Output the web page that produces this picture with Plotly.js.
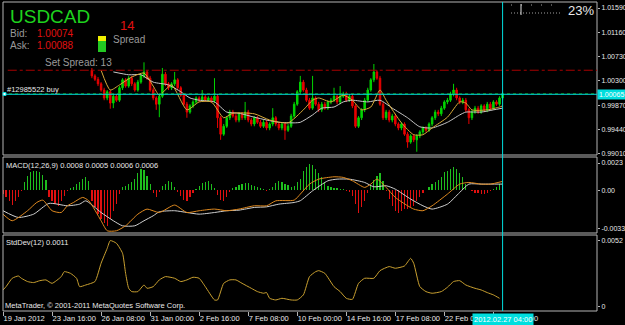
<!DOCTYPE html>
<html><head><meta charset="utf-8">
<script src="https://cdn.plot.ly/plotly-3.0.1.min.js"></script>
<style>html,body{margin:0;padding:0;background:#000;}#chart{width:625px;height:325px;}</style>
</head><body><div id="chart"></div>
<script>
// ---------- data ----------
const symbol = 'USDCAD';
const bidPrice = 1.00074, askPrice = 1.00088, orderPrice = 1.00065, tpLevel = 1.0049;
const spreadPts = 14, setSpread = 13, loadPct = '23%';
const orderLabel = '#12985522 buy';
const firstCandleBar = 29;
const lastBar = 163;
const cursorLabel = '2012.02.27 04:00';

const openP = [1.0049,1.0039,1.0033,1.0025,1.0014,1.0000,1.0011,0.9991,1.0003,0.9996,
1.0018,1.0032,1.0021,1.0035,1.0025,1.0014,1.0028,1.0039,1.0046,1.0035,
1.0014,1.0000,0.9989,1.0003,1.0042,1.0025,1.0018,1.0025,1.0032,1.0018,
1.0005,0.9989,0.9975,0.9986,0.9993,1.0000,0.9996,1.0002,0.9996,1.0000,
0.9995,1.0003,0.9965,0.9936,0.9950,0.9965,0.9975,0.9968,0.9961,0.9972,
0.9965,0.9975,0.9961,0.9954,0.9965,0.9957,0.9950,0.9957,0.9947,0.9954,
0.9965,0.9954,0.9947,0.9954,0.9943,0.9950,0.9968,0.9989,1.0011,1.0028,
1.0014,0.9996,0.9982,1.0000,0.9989,0.9979,0.9989,0.9982,0.9993,0.9996,
1.0003,0.9993,1.0003,1.0007,0.9996,1.0003,0.9986,0.9950,0.9965,0.9979,
0.9996,1.0014,1.0032,1.0046,1.0035,0.9989,0.9965,0.9975,0.9961,0.9968,
0.9954,0.9947,0.9954,0.9936,0.9922,0.9933,0.9926,0.9933,0.9940,0.9947,
0.9943,0.9954,0.9965,0.9975,0.9972,0.9982,0.9993,0.9996,1.0007,1.0014,
1.0000,0.9993,0.9996,0.9979,0.9965,0.9975,0.9982,0.9975,0.9986,0.9979,
0.9989,0.9982,0.9993,0.9989,1.0000];
const highP = [1.0053,1.0042,1.0037,1.0028,1.0018,1.0014,1.0014,1.0007,1.0007,1.0021,
1.0035,1.0035,1.0039,1.0039,1.0028,1.0032,1.0042,1.0063,1.0049,1.0039,
1.0018,1.0003,1.0007,1.0053,1.0046,1.0028,1.0028,1.0046,1.0035,1.0021,
1.0009,0.9993,0.9989,0.9996,1.0003,1.0003,1.0014,1.0005,1.0003,1.0003,
1.0035,1.0007,0.9968,0.9954,0.9968,0.9979,0.9979,0.9972,0.9975,0.9975,
0.9993,0.9979,0.9965,0.9968,0.9968,0.9961,0.9961,0.9961,0.9957,0.9982,
0.9968,0.9957,0.9957,0.9957,0.9954,0.9972,0.9993,1.0014,1.0039,1.0032,
1.0018,1.0000,1.0039,1.0003,0.9993,0.9993,0.9993,0.9996,1.0000,1.0018,
1.0007,1.0021,1.0011,1.0011,1.0007,1.0007,0.9989,0.9968,0.9982,1.0000,
1.0018,1.0035,1.0060,1.0049,1.0039,0.9993,0.9979,0.9979,0.9972,0.9972,
0.9957,0.9957,0.9957,0.9940,0.9936,0.9936,0.9936,0.9943,0.9950,0.9950,
0.9957,0.9968,0.9979,0.9979,0.9986,0.9996,1.0000,1.0011,1.0025,1.0018,
1.0003,1.0000,1.0000,0.9982,0.9979,0.9986,0.9986,0.9989,0.9989,0.9993,
0.9993,0.9996,0.9996,1.0003,1.0011];
const lowP = [1.0035,1.0030,1.0021,1.0011,0.9996,0.9996,0.9981,0.9982,0.9993,0.9993,
1.0014,1.0018,1.0018,1.0021,1.0011,1.0011,1.0025,1.0035,1.0032,1.0011,
0.9996,0.9979,0.9966,1.0000,1.0021,1.0014,1.0014,1.0021,1.0014,1.0002,
0.9986,0.9965,0.9972,0.9982,0.9989,0.9993,0.9993,0.9993,0.9993,0.9991,
0.9991,0.9947,0.9926,0.9933,0.9947,0.9961,0.9965,0.9957,0.9957,0.9961,
0.9961,0.9957,0.9950,0.9950,0.9954,0.9947,0.9947,0.9943,0.9943,0.9950,
0.9950,0.9943,0.9943,0.9926,0.9940,0.9947,0.9965,0.9986,1.0007,1.0011,
0.9993,0.9979,0.9979,0.9986,0.9975,0.9975,0.9979,0.9979,0.9989,0.9993,
0.9989,0.9989,1.0000,0.9993,0.9993,0.9982,0.9947,0.9947,0.9961,0.9975,
0.9993,1.0011,1.0028,1.0032,0.9986,0.9961,0.9961,0.9957,0.9957,0.9950,
0.9943,0.9943,0.9933,0.9912,0.9919,0.9922,0.9905,0.9929,0.9936,0.9940,
0.9940,0.9950,0.9961,0.9968,0.9968,0.9979,0.9989,0.9993,1.0003,0.9996,
0.9989,0.9989,0.9975,0.9954,0.9961,0.9972,0.9972,0.9972,0.9975,0.9975,
0.9979,0.9979,0.9986,0.9986,0.9996];
const closeP = [1.0039,1.0033,1.0025,1.0014,1.0000,1.0011,0.9991,1.0003,0.9996,1.0018,
1.0032,1.0021,1.0035,1.0025,1.0014,1.0028,1.0039,1.0046,1.0035,1.0014,
1.0000,0.9989,1.0003,1.0042,1.0025,1.0018,1.0025,1.0032,1.0018,1.0005,
0.9989,0.9975,0.9986,0.9993,1.0000,0.9996,1.0002,0.9996,1.0000,0.9995,
1.0003,0.9965,0.9936,0.9950,0.9965,0.9975,0.9968,0.9961,0.9972,0.9965,
0.9975,0.9961,0.9954,0.9965,0.9957,0.9950,0.9957,0.9947,0.9954,0.9965,
0.9954,0.9947,0.9954,0.9943,0.9950,0.9968,0.9989,1.0011,1.0028,1.0014,
0.9996,0.9982,1.0000,0.9989,0.9979,0.9989,0.9982,0.9993,0.9996,1.0003,
0.9993,1.0003,1.0007,0.9996,1.0003,0.9986,0.9950,0.9965,0.9979,0.9996,
1.0014,1.0032,1.0046,1.0035,0.9989,0.9965,0.9975,0.9961,0.9968,0.9954,
0.9947,0.9954,0.9936,0.9922,0.9933,0.9926,0.9933,0.9940,0.9947,0.9943,
0.9954,0.9965,0.9975,0.9972,0.9982,0.9993,0.9996,1.0007,1.0014,1.0000,
0.9993,0.9996,0.9979,0.9965,0.9975,0.9982,0.9975,0.9986,0.9979,0.9989,
0.9982,0.9993,0.9989,1.0000,1.0007];

const maFastBars = [32,35,38,42,46,49,51,55,60,64,68,72,75,82,87,93,98,101,103,107,111,114,117,120,123,125,130,134,137,140,145,149,151,153,158,162,163];
const maFastVals = [1.0049,1.0014,1.0023,1.0037,1.0044,1.0021,1.0005,1.0023,0.9979,0.9993,0.9993,0.9965,0.9973,0.9972,0.9961,0.9956,0.9979,0.9996,1.0000,0.9993,1.0005,0.9996,0.9979,0.9984,1.0014,0.9996,0.9956,0.9935,0.9935,0.9947,0.9966,0.9993,0.9991,0.9979,0.9979,0.9984,0.9986];
const maSlowBars = [36,41,45,49,54,58,61,64,69,73,77,82,86,90,95,97,101,104,108,111,114,119,123,127,132,136,140,145,149,151,156,160,163];
const maSlowVals = [1.0046,1.0041,1.0041,1.0028,1.0023,1.0011,1.0000,0.9996,0.9993,0.9975,0.9973,0.9966,0.9961,0.9957,0.9956,0.9957,0.9970,0.9982,0.9984,0.9993,0.9996,0.9993,0.9996,0.9982,0.9965,0.9949,0.9947,0.9957,0.9970,0.9975,0.9975,0.9979,0.9982];

const macdHist = [-0.00034,-0.00062,-0.00091,-0.00125,-0.00091,-0.00062,-0.00011,0.00065,0.00122,0.00150,
0.00164,0.00158,0.00150,0.00130,0.00085,-0.00062,-0.00091,-0.00119,-0.00133,-0.00091,
-0.00048,-0.00011,0.00017,0.00028,0.00051,0.00065,0.00093,0.00108,0.00074,-0.00091,
-0.00147,-0.00204,-0.00246,-0.00275,-0.00303,-0.00246,-0.00175,-0.00119,-0.00034,0.00023,
0.00037,0.00051,0.00065,0.00093,0.00142,0.00178,0.00170,0.00122,0.00051,-0.00028,
-0.00057,-0.00020,0.00037,0.00051,0.00074,0.00065,0.00023,-0.00020,-0.00048,-0.00085,
-0.00091,-0.00062,-0.00028,0.00008,0.00037,0.00057,0.00068,0.00074,0.00051,0.00017,
-0.00040,-0.00085,-0.00091,-0.00062,-0.00020,0.00014,0.00028,0.00042,0.00051,0.00059,
0.00057,0.00045,0.00034,0.00023,0.00014,0.00006,-0.00006,0.00006,0.00023,0.00062,
0.00074,0.00065,0.00051,0.00040,0.00028,0.00037,0.00065,0.00093,0.00164,0.00192,
0.00221,0.00215,0.00178,0.00142,0.00108,0.00065,0.00037,0.00023,0.00017,0.00014,
0.00011,0.00006,-0.00006,-0.00020,-0.00048,-0.00119,-0.00190,-0.00147,-0.00091,-0.00028,
0.00037,0.00085,0.00122,0.00142,0.00074,-0.00011,-0.00076,-0.00133,-0.00181,-0.00190,
-0.00175,-0.00164,-0.00161,-0.00147,-0.00133,-0.00096,-0.00062,-0.00023,0,0.00028,
0.00051,0.00071,0.00085,0.00113,0.00150,0.00164,0.00178,0.00192,0.00175,0.00147,
0.00108,0.00051,0,-0.00011,-0.00023,-0.00028,-0.00034,-0.00034,-0.00023,-0.00011,
0.00008,0.00023,0.00051,0.00057];
const macdLineBars = [0,3,8,11,13,16,19,21,23,26,28,32,34,37,40,44,47,51,56,60,64,69,73,77,82,86,89,95,97,100,103,108,111,114,118,120,122,125,128,132,134,137,140,145,149,152,156,159,163];
const macdLineVals = [-0.00204,-0.00260,-0.00175,-0.00105,-0.00085,-0.00175,-0.00190,-0.00133,-0.00105,-0.00062,-0.00091,-0.00260,-0.00345,-0.00345,-0.00303,-0.00204,-0.00161,-0.00190,-0.00127,-0.00190,-0.00175,-0.00161,-0.00175,-0.00161,-0.00133,-0.00133,-0.00091,-0.00085,-0.00034,0.00051,0.00093,0.00113,0.00108,0.00079,0.00023,0.00051,0.00093,0.00023,-0.00062,-0.00133,-0.00161,-0.00175,-0.00133,-0.00034,0.00051,0.00065,0.00051,0.00051,0.00074];
const signalBars = [0,5,10,15,21,25,27,32,36,39,43,46,49,51,56,60,64,69,73,77,82,86,90,95,97,101,106,109,113,118,121,125,128,133,137,140,145,149,152,156,159,163];
const signalVals = [-0.00175,-0.00232,-0.00204,-0.00113,-0.00133,-0.00119,-0.00091,-0.00190,-0.00260,-0.00303,-0.00303,-0.00260,-0.00218,-0.00184,-0.00175,-0.00190,-0.00204,-0.00190,-0.00175,-0.00170,-0.00147,-0.00142,-0.00119,-0.00105,-0.00090,-0.00006,0.00079,0.00093,0.00093,0.00065,0.00028,0.00037,0.00008,-0.00076,-0.00133,-0.00161,-0.00119,-0.00020,0.00051,0.00051,0.00051,0.00051];

const sdBars = [0,1,3,5,6,8,10,12,14,16,19,20,22,24,25,27,30,32,34,35,37,39,40,41,42,44,46,47,49,51,53,56,58,60,62,64,66,69,70,72,74,76,78,81,83,85,86,87,89,91,94,96,98,100,102,103,105,108,110,112,114,116,118,121,123,126,128,131,133,134,136,138,140,143,145,147,149,151,154,156,158,160,162];
const sdVals = [0.00134,0.00160,0.00226,0.00244,0.00226,0.00200,0.00192,0.00207,0.00213,0.00186,0.00239,0.00278,0.00265,0.00226,0.00160,0.00173,0.00200,0.00344,0.00462,0.00523,0.00502,0.00423,0.00265,0.00147,0.00121,0.00121,0.00173,0.00147,0.00160,0.00213,0.00239,0.00226,0.00200,0.00213,0.00234,0.00226,0.00160,0.00055,0.00055,0.00186,0.00213,0.00213,0.00186,0.00147,0.00121,0.00108,0.00113,0.00068,0.00055,0.00068,0.00055,0.00055,0.00095,0.00239,0.00278,0.00286,0.00265,0.00160,0.00121,0.00068,0.00060,0.00186,0.00226,0.00226,0.00286,0.00318,0.00305,0.00323,0.00383,0.00344,0.00160,0.00121,0.00108,0.00121,0.00155,0.00200,0.00207,0.00173,0.00147,0.00134,0.00113,0.00095,0.00068];

const dateTickBars = [0,16,32,48,64,80,96,112,128,144,160];
const dateTickLabels = ['19 Jan 2012','23 Jan 16:00','26 Jan 08:00','31 Jan 00:00','2 Feb 16:00','7 Feb 08:00','10 Feb 00:00','14 Feb 16:00','17 Feb 08:00','22 Feb 00:00','24 Feb 16:00'];
const priceTicks = [1.0159,1.0116,1.0073,1.0030,0.9987,0.9944,0.9901];
const macdTicks = [0.0023,0,-0.0033];
const macdTickLabels = ['0.0023','0.00','-0.0033'];
const sdTicks = [0.0052,0];
const sdTickLabels = ['0.0052','0'];
const macdParams = '12,26,9';
const macdReadout = ['0.0008','0.0005','0.0006','0.0006'];
const sdPeriod = 12, sdReadout = '0.0011';

// ---------- drawing ----------
const W = 625, H = 325, ML = 3, MR = 28, MT = 2, MB = 14;
const PW = W - ML - MR, PH = H - MT - MB;
const px = x => (x - ML) / PW;
const py = y => (H - MB - y) / PH;

const candleX = openP.map((_, k) => firstCandleBar + k);
const GREY = '#b4b4b4', TXT = '#e8e8e8', CYAN = '#00dede';
const FAM = 'Liberation Sans, Arial, sans-serif';
const small = {family: FAM, size: 7.5, color: TXT};
const axisFont = {family: FAM, size: 7, color: TXT};

const traces = [
  {type: 'candlestick', x: candleX, open: openP, high: highP, low: lowP, close: closeP,
   xaxis: 'x', yaxis: 'y', whiskerwidth: 0,
   increasing: {line: {color: '#00d400', width: 1}, fillcolor: '#00d400'},
   decreasing: {line: {color: '#e80000', width: 1}, fillcolor: '#e80000'},
   hoverinfo: 'skip'},
  {type: 'scatter', mode: 'lines', x: maSlowBars, y: maSlowVals, xaxis: 'x', yaxis: 'y',
   line: {color: '#c8c8c8', width: 1, shape: 'spline', smoothing: 0.6}, hoverinfo: 'skip'},
  {type: 'scatter', mode: 'lines', x: maFastBars, y: maFastVals, xaxis: 'x', yaxis: 'y',
   line: {color: '#d8aa3a', width: 1, shape: 'spline', smoothing: 0.6}, hoverinfo: 'skip'},
  {type: 'bar', x: macdHist.map((_, i) => i), y: macdHist, xaxis: 'x', yaxis: 'y2', width: 0.4,
   marker: {color: macdHist.map(v => v >= 0 ? '#1ebe1e' : '#e01010'), line: {width: 0}}, hoverinfo: 'skip'},
  {type: 'scatter', mode: 'lines', x: signalBars, y: signalVals, xaxis: 'x', yaxis: 'y2',
   line: {color: '#d0d0d0', width: 1, shape: 'spline', smoothing: 0.6}, hoverinfo: 'skip'},
  {type: 'scatter', mode: 'lines', x: macdLineBars, y: macdLineVals, xaxis: 'x', yaxis: 'y2',
   line: {color: '#e08a20', width: 1, shape: 'spline', smoothing: 0.6}, hoverinfo: 'skip'},
  {type: 'scatter', mode: 'lines', x: sdBars, y: sdVals, xaxis: 'x', yaxis: 'y3',
   line: {color: '#c9a030', width: 1, shape: 'spline', smoothing: 0.5}, hoverinfo: 'skip'}
];

const yCommon = {side: 'right', anchor: 'x', ticks: 'outside', ticklen: 2, tickcolor: GREY,
  showgrid: false, zeroline: false, showline: false, tickfont: axisFont, fixedrange: true};

const layout = {
  width: W, height: H, margin: {l: ML, r: MR, t: MT, b: MB, pad: 0, autoexpand: false},
  paper_bgcolor: '#000', plot_bgcolor: '#000', showlegend: false, hovermode: false,
  font: {family: FAM, color: TXT},
  bargap: 0,
  xaxis: {range: [0, 193.8], anchor: 'y3', tickvals: dateTickBars, ticktext: dateTickLabels,
    tickangle: 0, ticks: 'outside', ticklen: 4, tickcolor: GREY, ticklabelposition: 'outside right',
    showgrid: false, zeroline: false, showline: false, tickfont: small, automargin: false,
    rangeslider: {visible: false}, fixedrange: true},
  yaxis: Object.assign({}, yCommon, {domain: [py(155), 1], range: [0.98992, 1.01696],
    tickvals: priceTicks, ticktext: priceTicks.map(v => v.toFixed(5))}),
  yaxis2: Object.assign({}, yCommon, {domain: [py(233), py(157)], range: [-0.00364, 0.00281],
    tickvals: macdTicks, ticktext: macdTickLabels}),
  yaxis3: Object.assign({}, yCommon, {domain: [0, py(235)], range: [-0.00032, 0.00567],
    tickvals: sdTicks, ticktext: sdTickLabels}),
  shapes: [
    {type: 'rect', xref: 'paper', yref: 'y domain', x0: 0, x1: 1, y0: 0, y1: 1, line: {color: GREY, width: 1}},
    {type: 'rect', xref: 'paper', yref: 'y2 domain', x0: 0, x1: 1, y0: 0, y1: 1, line: {color: GREY, width: 1}},
    {type: 'rect', xref: 'paper', yref: 'y3 domain', x0: 0, x1: 1, y0: 0, y1: 1, line: {color: GREY, width: 1}},
    {type: 'line', xref: 'paper', yref: 'y', x0: 0.008, x1: 1, y0: tpLevel, y1: tpLevel, line: {color: '#a80000', width: 1, dash: 'dashdot'}},
    {type: 'line', xref: 'paper', yref: 'y', x0: 0, x1: 1, y0: bidPrice, y1: bidPrice, line: {color: '#109010', width: 1, dash: 'dot'}},
    {type: 'line', xref: 'paper', yref: 'y', x0: 0, x1: 1, y0: orderPrice, y1: orderPrice, line: {color: CYAN, width: 1}},
    {type: 'rect', xref: 'paper', yref: 'paper', x0: px(3), x1: px(6), y0: py(95.5), y1: py(92.5), line: {color: CYAN, width: 1}, fillcolor: '#ffffff'},
    {type: 'line', xref: 'x', yref: 'paper', x0: lastBar, x1: lastBar, y0: 0, y1: 1, line: {color: CYAN, width: 1}},
    {type: 'rect', xref: 'paper', yref: 'paper', x0: px(98), x1: px(106), y0: py(41), y1: py(36), line: {width: 0}, fillcolor: '#f0f000'},
    {type: 'rect', xref: 'paper', yref: 'paper', x0: px(98), x1: px(106), y0: py(52), y1: py(41), line: {width: 0}, fillcolor: '#22c822'},
    {type: 'line', xref: 'paper', yref: 'paper', x0: px(511), x1: px(561), y0: py(13), y1: py(13), line: {color: '#a0a0a0', width: 1, dash: '1px,2px'}},
    {type: 'line', xref: 'paper', yref: 'paper', x0: px(511), x1: px(561), y0: py(5), y1: py(5), line: {color: '#a0a0a0', width: 1, dash: '1px,9px'}},
    {type: 'line', xref: 'paper', yref: 'paper', x0: px(521), x1: px(521), y0: py(15), y1: py(4), line: {color: '#e0e0e0', width: 1}}
  ],
  annotations: [
    {text: symbol, xref: 'paper', yref: 'paper', x: px(8), y: py(16), xanchor: 'left', yanchor: 'middle', showarrow: false,
     font: {family: FAM, size: 19, color: '#1ed21e'}},
    {text: 'Bid:', xref: 'paper', yref: 'paper', x: px(8), y: py(33.5), xanchor: 'left', yanchor: 'middle', showarrow: false, font: {size: 10, color: '#9a9a9a'}},
    {text: bidPrice.toFixed(5), xref: 'paper', yref: 'paper', x: px(35), y: py(33.5), xanchor: 'left', yanchor: 'middle', showarrow: false, font: {size: 10, color: '#e01010'}},
    {text: 'Ask:', xref: 'paper', yref: 'paper', x: px(8), y: py(46), xanchor: 'left', yanchor: 'middle', showarrow: false, font: {size: 10, color: '#9a9a9a'}},
    {text: askPrice.toFixed(5), xref: 'paper', yref: 'paper', x: px(35), y: py(46), xanchor: 'left', yanchor: 'middle', showarrow: false, font: {size: 10, color: '#e01010'}},
    {text: String(spreadPts), xref: 'paper', yref: 'paper', x: px(118), y: py(25.5), xanchor: 'left', yanchor: 'middle', showarrow: false, font: {size: 13, color: '#e01010'}},
    {text: 'Spread', xref: 'paper', yref: 'paper', x: px(111), y: py(39), xanchor: 'left', yanchor: 'middle', showarrow: false, font: {size: 10, color: '#9a9a9a'}},
    {text: 'Set Spread: ' + setSpread, xref: 'paper', yref: 'paper', x: px(43), y: py(62), xanchor: 'left', yanchor: 'middle', showarrow: false, font: {size: 10, color: '#9a9a9a'}},
    {text: orderLabel, xref: 'paper', yref: 'paper', x: px(5), y: py(89), xanchor: 'left', yanchor: 'middle', showarrow: false, font: small},
    {text: loadPct, xref: 'paper', yref: 'paper', x: px(566), y: py(10), xanchor: 'left', yanchor: 'middle', showarrow: false, font: {size: 13, color: TXT}},
    {text: 'MACD(' + macdParams + ') ' + macdReadout.join(' '), xref: 'paper', yref: 'paper', x: px(4), y: py(165), xanchor: 'left', yanchor: 'middle', showarrow: false, font: small},
    {text: 'StdDev(' + sdPeriod + ') ' + sdReadout, xref: 'paper', yref: 'paper', x: px(4), y: py(243), xanchor: 'left', yanchor: 'middle', showarrow: false, font: small},
    {text: 'MetaTrader, \u00a9 2001-2011 MetaQuotes Software Corp.', xref: 'paper', yref: 'paper', x: px(3), y: py(305.5), xanchor: 'left', yanchor: 'middle', showarrow: false, font: small},
    {text: cursorLabel, xref: 'x', yref: 'paper', x: lastBar, y: py(319), xanchor: 'center', yanchor: 'middle', showarrow: false,
     bgcolor: CYAN, borderpad: 1, font: {family: FAM, size: 7.5, color: '#ffffff'}},
    {text: orderPrice.toFixed(5), xref: 'paper', yref: 'y', x: px(597), y: orderPrice, xanchor: 'left', yanchor: 'middle', showarrow: false,
     bgcolor: CYAN, borderpad: 1, font: {family: FAM, size: 7, color: '#ffffff'}}
  ]
};

Plotly.newPlot('chart', traces, layout, {staticPlot: true, displayModeBar: false});
</script>
</body></html>
